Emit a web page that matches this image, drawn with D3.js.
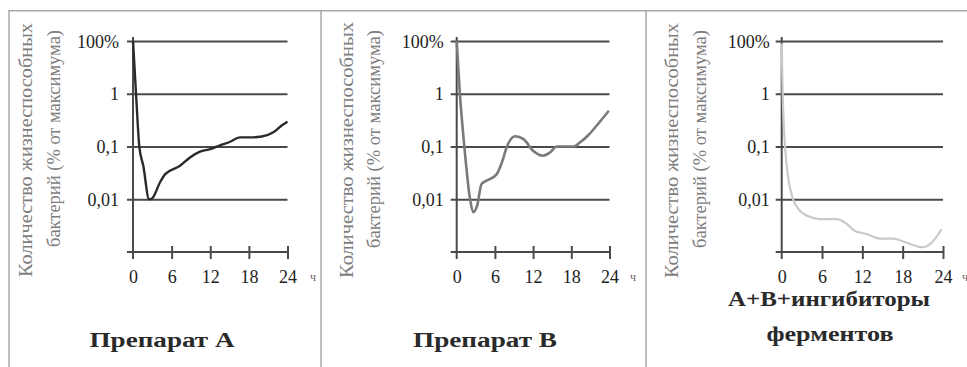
<!DOCTYPE html>
<html><head><meta charset="utf-8">
<script src="https://cdn.jsdelivr.net/npm/d3@7"></script>
<style>
body{margin:0;background:#fff}
svg{display:block}
svg text{font-family:"Liberation Serif","DejaVu Serif","Liberation Sans",serif !important}
</style>
</head><body>
<svg id="c" width="967" height="367"></svg>
<script>
// ---- data ----
const xTicks = [0, 6, 12, 18, 24];
const yTicks = [10, 1, 0.1, 0.01];
const yTickLabels = ["100%", "1", "0,1", "0,01"];
const unitLabel = "ч";
const yTitleLines = ["Количество жизнеспособных", "бактерий (% от максимума)"];
const panelTitles = [["Препарат А"], ["Препарат В"], ["А+В+ингибиторы", "ферментов"]];

const timesA  = [0, 0.47, 0.98, 1.6, 2.5, 3.0, 4.2, 5.0, 7.3, 8.85, 10.4, 12.0, 13.5, 15.1, 16.6, 18.2, 20.0, 21.8, 23.1, 24];
const valuesA = [10, 1, 0.1, 0.043, 0.01, 0.0105, 0.021, 0.030, 0.043, 0.062, 0.080, 0.089, 0.105, 0.123, 0.149, 0.149, 0.155, 0.186, 0.25, 0.295];

const timesB  = [0, 0.5, 1.2, 2.1, 2.6, 3.2, 3.9, 4.7, 6.3, 7.1, 7.9, 9.2, 10.5, 12.0, 13.6, 14.7, 15.7, 18.4, 19.4, 20.7, 22.0, 23.9];
const valuesB = [10, 1, 0.1, 0.01, 0.0057, 0.0075, 0.0195, 0.0225, 0.030, 0.050, 0.10, 0.156, 0.138, 0.083, 0.067, 0.078, 0.10, 0.10, 0.12, 0.165, 0.25, 0.475];

const timesC  = [0, 0.15, 0.5, 1.0, 1.7, 2.5, 3.7, 5.7, 8.2, 9.7, 10.9, 12.6, 14.6, 16.6, 18.6, 21.0, 22.3, 23.8];
const valuesC = [9, 1, 0.1, 0.024, 0.01, 0.0065, 0.0049, 0.0042, 0.0042, 0.0034, 0.0025, 0.0022, 0.0018, 0.0018, 0.0015, 0.00123, 0.0015, 0.0027];

const series = [
  {t: timesA, v: valuesA},
  {t: timesB, v: valuesB},
  {t: timesC, v: valuesC}
];

// ---- layout ----
const layout = [
  {x0: 133, x1: 287.5, tl: [{x: 32, c: 150, len: 254}, {x: 60, c: 138.5, len: 217}], color: "#2a2a2a", width: 2.4,
   titles: [{y: 347, c: 162, len: 145}], unitX: 313, labOff: 14},
  {x0: 456.7, x1: 609.5, tl: [{x: 353, c: 150, len: 256}, {x: 380, c: 139, len: 218}], color: "#7a7a7a", width: 2.6,
   titles: [{y: 347, c: 485, len: 144}], unitX: 633, labOff: 13},
  {x0: 781.7, x1: 943, tl: [{x: 678, c: 150.5, len: 255}, {x: 706, c: 139, len: 218}], color: "#c9c9c9", width: 2.2,
   titles: [{y: 306, c: 829, len: 202}, {y: 341, c: 830, len: 127}], unitX: 965, labOff: 12}
];

const svg = d3.select("#c");
const yTop = 41, yBot = 252;

// frame
const frame = svg.append("g").attr("stroke", "#a8a8a8").attr("stroke-width", 1.5).attr("fill", "none");
frame.append("line").attr("x1", 9).attr("x2", 967).attr("y1", 10.7).attr("y2", 10.7);
[9, 321, 646].forEach(x => frame.append("line").attr("x1", x).attr("x2", x).attr("y1", 10).attr("y2", 367));

const y = d3.scaleLog().domain([0.001, 10]).range([yBot, yTop]);

layout.forEach((L, i) => {
  const g = svg.append("g");
  const x = d3.scaleLinear().domain([0, 24]).range([L.x0, L.x1]);

  // y-axis title
  L.tl.forEach((p, j) => {
    g.append("text")
      .attr("transform", `translate(${p.x},${p.c}) rotate(-90)`)
      .attr("text-anchor", "middle")
      .attr("font-size", 18)
      .attr("fill", "#7d7d7d")
      .attr("textLength", p.len).attr("lengthAdjust", "spacingAndGlyphs")
      .text(yTitleLines[j]);
  });

  // gridlines + y labels
  const ya = d3.axisLeft(y).tickValues(yTicks)
    .tickFormat((d, k) => yTickLabels[k])
    .tickSize(L.x1 - L.x0 + 6).tickPadding(L.labOff - 6);
  const yg = g.append("g").attr("transform", `translate(${L.x1},0)`).call(ya);
  yg.attr("font-family", null);
  yg.select(".domain").remove();
  yg.selectAll(".tick line").attr("stroke", "#4a4a4a").attr("stroke-width", 2);
  yg.selectAll(".tick text").attr("font-size", 18).attr("fill", "#222")
    .attr("dy", "0.34em");

  // x axis
  const xa = d3.axisBottom(x).tickValues(xTicks).tickSize(7).tickPadding(11).tickSizeOuter(0);
  const xg = g.append("g").attr("transform", `translate(0,${yBot})`).call(xa);
  xg.attr("font-family", null);
  xg.select(".domain").remove();
  xg.selectAll(".tick line").attr("stroke", "#4a4a4a").attr("stroke-width", 2).attr("y1", -6);
  xg.selectAll(".tick").filter(d => d === 0).select("line").remove();
  xg.selectAll(".tick text").attr("font-size", 18).attr("fill", "#222");
  g.append("line").attr("x1", L.x0 - 6).attr("x2", L.x1).attr("y1", yBot).attr("y2", yBot)
    .attr("stroke", "#4a4a4a").attr("stroke-width", 2);
  g.append("line").attr("x1", L.x0).attr("x2", L.x0).attr("y1", 37).attr("y2", 259)
    .attr("stroke", "#4a4a4a").attr("stroke-width", 2);
  g.append("text").attr("x", L.unitX).attr("y", 281).attr("text-anchor", "middle")
    .attr("font-size", 12).attr("fill", "#666").text(unitLabel);

  // curve
  const s = series[i];
  const pts = s.t.map((t, k) => [t, s.v[k]]);
  const line = d3.line().x(d => x(d[0])).y(d => y(d[1])).curve(d3.curveMonotoneX);
  g.append("path").attr("d", line(pts)).attr("fill", "none")
    .attr("stroke", L.color).attr("stroke-width", L.width).attr("stroke-linejoin", "round");

  // panel title
  panelTitles[i].forEach((txt, j) => {
    const p = L.titles[j];
    g.append("text").attr("x", p.c).attr("y", p.y).attr("text-anchor", "middle")
      .attr("font-size", 20).attr("font-weight", "bold").attr("fill", "#2a2a2a")
      .attr("textLength", p.len).attr("lengthAdjust", "spacingAndGlyphs")
      .text(txt);
  });
});
</script>
</body></html>
